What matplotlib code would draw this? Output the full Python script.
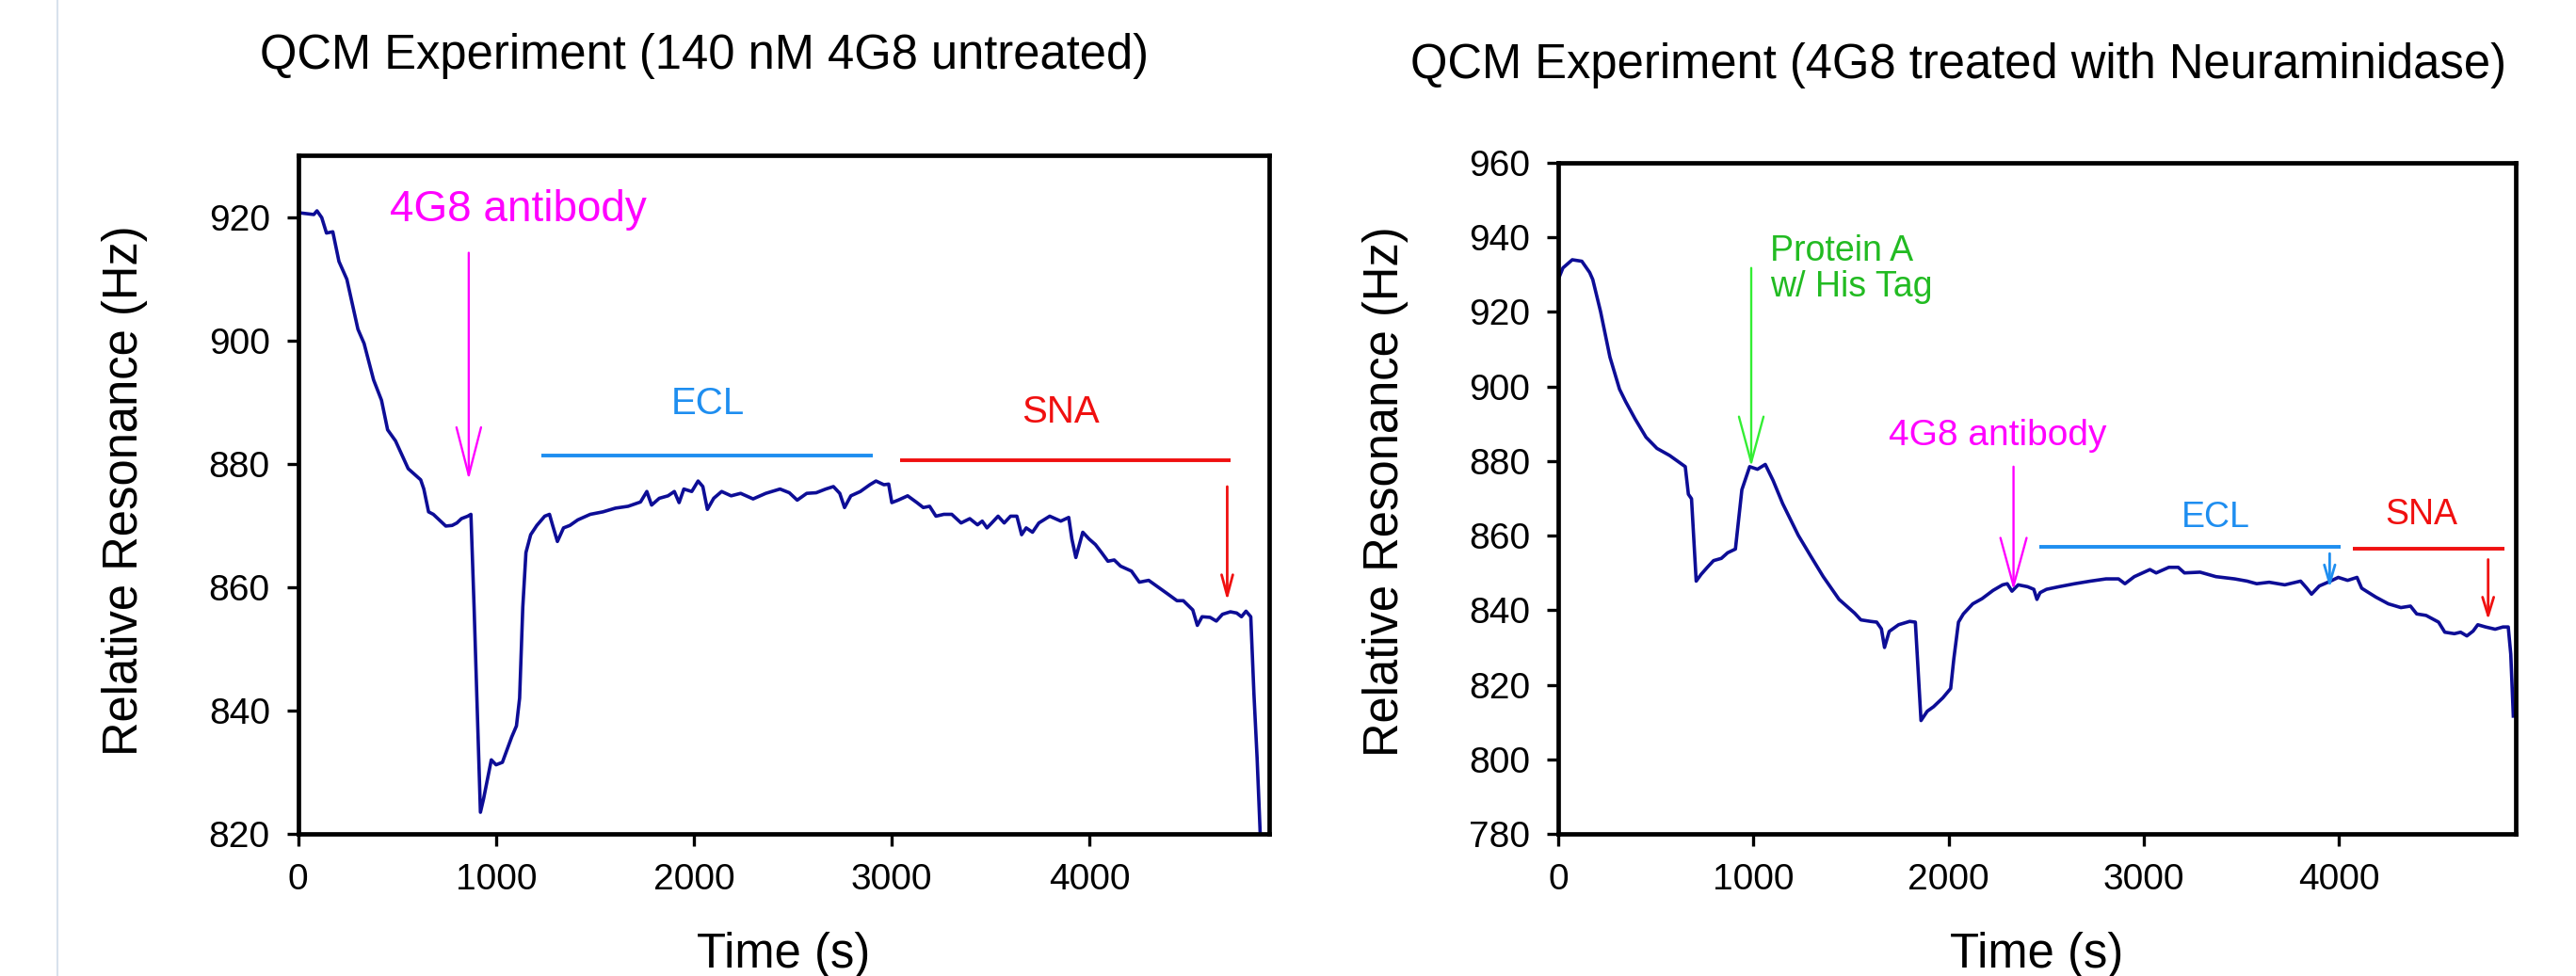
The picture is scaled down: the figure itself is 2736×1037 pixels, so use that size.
import matplotlib
matplotlib.use("Agg")
import matplotlib.pyplot as plt
from matplotlib.lines import Line2D

plt.rcParams['font.family'] = ['Liberation Sans', 'DejaVu Sans']

# QCM run, 140 nM 4G8 untreated (time in s, relative resonance in Hz)
t_untreated = [
    0, 79, 95, 119, 143, 175, 206, 246, 302, 333,
    381, 421, 452, 492, 556, 619, 635, 659, 683, 746,
    778, 802, 825, 857, 873, 889, 921, 937, 976, 1000,
    1032, 1048, 1079, 1103, 1119, 1135, 1151, 1175, 1206, 1246,
    1270, 1286, 1310, 1341, 1373, 1413, 1476, 1540, 1603, 1667,
    1730, 1762, 1786, 1825, 1869, 1901, 1925, 1949, 1989, 2021,
    2045, 2068, 2100, 2140, 2188, 2236, 2299, 2363, 2435, 2482,
    2522, 2570, 2618, 2666, 2705, 2737, 2761, 2793, 2841, 2889,
    2920, 2960, 2984, 3000, 3032, 3080, 3127, 3159, 3191, 3223,
    3263, 3303, 3350, 3394, 3433, 3457, 3481, 3505, 3537, 3568,
    3600, 3632, 3656, 3679, 3711, 3743, 3798, 3854, 3894, 3910,
    3930, 3965, 3997, 4029, 4060, 4092, 4124, 4156, 4211, 4251,
    4298, 4346, 4394, 4441, 4473, 4521, 4544, 4568, 4608, 4640,
    4671, 4711, 4743, 4767, 4790, 4814, 4830, 4846, 4862, 4872,
]
f_untreated = [
    920.7, 920.4, 921.0, 919.9, 917.4, 917.6, 912.8, 909.9, 901.8, 899.5,
    893.6, 890.3, 885.5, 883.7, 879.2, 877.4, 875.9, 872.2, 871.8, 869.9,
    870.0, 870.4, 871.1, 871.5, 871.8, 856.7, 823.5, 825.7, 832.0, 831.2,
    831.6, 833.0, 835.7, 837.5, 842.0, 856.7, 865.6, 868.5, 870.0, 871.5,
    871.8, 870.0, 867.4, 869.6, 870.0, 870.9, 871.8, 872.2, 872.8, 873.1,
    873.8, 875.5, 873.3, 874.4, 874.8, 875.5, 873.7, 875.9, 875.5, 877.2,
    876.3, 872.6, 874.4, 875.5, 874.8, 875.2, 874.3, 875.2, 875.9, 875.3,
    874.1, 875.2, 875.3, 875.9, 876.3, 875.2, 872.9, 874.8, 875.5, 876.6,
    877.2, 876.6, 876.7, 873.7, 874.1, 874.8, 873.7, 872.9, 873.1, 871.5,
    871.8, 871.8, 870.4, 871.1, 870.1, 870.7, 869.6, 870.4, 871.5, 870.4,
    871.5, 871.5, 868.5, 869.6, 868.9, 870.4, 871.5, 870.7, 871.3, 867.8,
    864.8, 868.9, 867.8, 866.9, 865.6, 864.2, 864.4, 863.4, 862.6, 860.8,
    861.1, 860.0, 858.9, 857.8, 857.8, 856.3, 853.8, 855.2, 855.1, 854.5,
    855.6, 856.0, 855.8, 855.2, 856.1, 855.2, 842.7, 832.3, 820.0, 812.0,
]

# QCM run, 4G8 treated with Neuraminidase
t_treated = [
    0, 24, 72, 121, 161, 177, 217, 265, 314, 346,
    394, 450, 506, 571, 635, 651, 667, 683, 707, 732,
    764, 796, 836, 868, 908, 941, 981, 1021, 1061, 1101,
    1150, 1230, 1294, 1358, 1439, 1519, 1551, 1600, 1632, 1656,
    1672, 1696, 1744, 1801, 1830, 1859, 1891, 1923, 1971, 2011,
    2027, 2051, 2076, 2124, 2172, 2228, 2277, 2301, 2325, 2357,
    2405, 2437, 2453, 2469, 2502, 2566, 2646, 2727, 2807, 2871,
    2904, 2952, 3032, 3064, 3129, 3177, 3209, 3289, 3370, 3466,
    3530, 3579, 3643, 3723, 3804, 3836, 3860, 3900, 3957, 3997,
    4045, 4093, 4117, 4141, 4190, 4254, 4318, 4367, 4399, 4447,
    4511, 4543, 4592, 4624, 4656, 4688, 4712, 4752, 4801, 4841,
    4868, 4881, 4894,
]
f_treated = [
    928.7, 931.8, 934.0, 933.6, 930.6, 928.7, 920.1, 907.9, 899.3, 895.9,
    891.3, 886.4, 883.4, 881.5, 879.1, 878.5, 871.1, 869.9, 847.8, 849.6,
    851.5, 853.3, 853.9, 855.4, 856.4, 872.3, 878.5, 877.8, 879.1, 874.8,
    868.6, 860.1, 854.5, 849.0, 842.9, 839.2, 837.4, 837.0, 836.8, 835.0,
    830.0, 834.3, 836.1, 837.0, 836.8, 810.4, 812.9, 814.1, 816.5, 819.0,
    826.9, 836.8, 839.0, 841.7, 843.1, 845.3, 846.8, 847.1, 845.1, 846.8,
    846.3, 845.6, 842.9, 844.7, 845.6, 846.3, 847.1, 847.8, 848.4, 848.4,
    847.1, 849.0, 850.9, 850.0, 851.5, 851.5, 850.0, 850.2, 849.0, 848.4,
    847.8, 847.1, 847.5, 846.8, 847.8, 845.9, 844.3, 846.5, 847.8, 848.8,
    848.0, 848.8, 845.9, 845.1, 843.5, 841.7, 840.7, 841.1, 839.0, 838.6,
    836.8, 834.1, 833.7, 834.1, 833.1, 834.4, 836.1, 835.5, 834.9, 835.5,
    835.5, 828.2, 811.6,
]

titles = ["QCM Experiment (140 nM 4G8 untreated)",
          "QCM Experiment (4G8 treated with Neuraminidase)"]
x_ticks = [0, 1000, 2000, 3000, 4000]
y_ticks_untreated = [820, 840, 860, 880, 900, 920]
y_ticks_treated = [780, 800, 820, 840, 860, 880, 900, 920, 940, 960]

TRACE = '#0d0d96'
MAGENTA = '#ff00ff'
BLUE = '#1e8ef0'
RED = '#f01010'
GREEN_ARROW = '#33ee33'
GREEN_TEXT = '#22bb22'

W, H = 2736, 1037
fig = plt.figure(figsize=(W / 100, H / 100), dpi=100)
fig.patch.set_facecolor('white')

# faint page edge line on the left
fig.add_artist(Line2D([61 / W, 61 / W], [0, 1], color='#d8e2ec', lw=1.5))


def style_axes(ax, yticks, xmax, ylim):
    ax.set_xlim(0, xmax)
    ax.set_ylim(*ylim)
    ax.set_xticks(x_ticks)
    ax.set_yticks(yticks)
    for s in ax.spines.values():
        s.set_linewidth(3.4)
    ax.tick_params(axis='both', direction='out', width=2.4, labelsize=28, pad=13)
    ax.tick_params(axis='x', length=9.5)
    ax.tick_params(axis='y', length=8.5)


def arrow(ax, x, y0, y1, color, lw, hl, hw):
    ax.annotate('', xy=(x, y1), xytext=(x, y0),
                arrowprops=dict(arrowstyle=f'->,head_length={hl},head_width={hw}',
                                color=color, lw=lw, shrinkA=0, shrinkB=0,
                                mutation_scale=1))


# ---- left panel ----
ax1 = fig.add_axes([316.7 / W, (H - 886) / H, (1348 - 316.7) / W, (886 - 165) / H])
ax1.plot(t_untreated, f_untreated, color=TRACE, lw=2.6)
style_axes(ax1, y_ticks_untreated, 4907, (820, 930))

ax1.text(1112, 919.3, '4G8 antibody', color=MAGENTA, fontsize=33, ha='center', va='baseline')
arrow(ax1, 862, 914.2, 877.4, MAGENTA, 1.7, 36.7, 9.4)
ax1.plot([1230, 2904], [881.4, 881.4], color=BLUE, lw=2.8, solid_capstyle='butt')
ax1.text(2070, 888.0, 'ECL', color=BLUE, fontsize=29, ha='center', va='baseline')
ax1.plot([3040, 4711], [880.6, 880.6], color=RED, lw=2.8, solid_capstyle='butt')
ax1.text(3855, 886.6, 'SNA', color=RED, fontsize=29, ha='center', va='baseline')
arrow(ax1, 4695, 876.3, 857.8, RED, 2.0, 16, 4.3)

# ---- right panel ----
ax2 = fig.add_axes([1655 / W, (H - 886) / H, (2671.7 - 1655) / W, (886 - 173) / H])
ax2.plot(t_treated, f_treated, color=TRACE, lw=2.6)
style_axes(ax2, y_ticks_treated, 4905, (780, 960))

arrow(ax2, 989, 931.8, 878.5, GREEN_ARROW, 1.7, 35, 9.4)
ax2.text(1085, 933.7, 'Protein A', color=GREEN_TEXT, fontsize=27, ha='left', va='baseline')
ax2.text(1085, 924.2, 'w/ His Tag', color=GREEN_TEXT, fontsize=27, ha='left', va='baseline')
ax2.text(2253, 884.3, '4G8 antibody', color=MAGENTA, fontsize=28, ha='center', va='baseline')
arrow(ax2, 2333, 878.5, 845.4, MAGENTA, 1.7, 36.7, 10)
ax2.plot([2463, 4008], [857, 857], color=BLUE, lw=2.8, solid_capstyle='butt')
ax2.text(3368, 862.3, 'ECL', color=BLUE, fontsize=27, ha='center', va='baseline')
arrow(ax2, 3953, 855.2, 846.0, BLUE, 2.0, 14, 4.1)
ax2.plot([4074, 4849], [856.6, 856.6], color=RED, lw=2.8, solid_capstyle='butt')
ax2.text(4421, 863.1, 'SNA', color=RED, fontsize=27, ha='center', va='baseline')
arrow(ax2, 4765, 853.6, 837.4, RED, 2.0, 14, 4.3)

# ---- titles and axis labels placed as in the source figure ----
fig.text(747.5 / W, 1 - 72.8 / H, titles[0], fontsize=36.5, ha='center', va='baseline')
fig.text(2080 / W, 1 - 82.7 / H, titles[1], fontsize=36.5, ha='center', va='baseline')
fig.text(133 / W, 1 - 521 / H, 'Relative Resonance (Hz)', fontsize=36.5,
         rotation=90, ha='center', va='center')
fig.text(1471 / W, 1 - 522 / H, 'Relative Resonance (Hz)', fontsize=36.5,
         rotation=90, ha='center', va='center')
fig.text(832 / W, 1 - 1028 / H, 'Time (s)', fontsize=36.5, ha='center', va='baseline')
fig.text(2163 / W, 1 - 1028 / H, 'Time (s)', fontsize=36.5, ha='center', va='baseline')

fig.savefig('out.png', dpi=100, facecolor='white')
